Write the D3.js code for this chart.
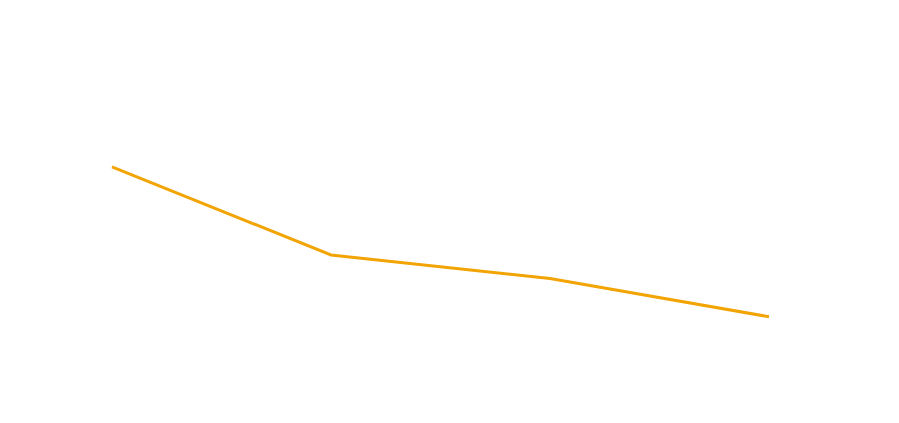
<!DOCTYPE html>
<html>
<head>
<meta charset="utf-8">
<script src="https://cdn.jsdelivr.net/npm/d3@7"></script>
<style>
  body { margin: 0; background: #fff; }
</style>
</head>
<body>
<div id="vis"></div>
<script>
// one orange series, no axes or labels shown
var categories = ['Q1', 'Q2', 'Q3', 'Q4'];
var values = [80, 50, 42, 29];

var svg = d3.select('#vis').append('svg')
  .attr('width', 899)
  .attr('height', 423);

var x = d3.scalePoint()
  .domain(categories)
  .range([112, 769]);

var y = d3.scaleLinear()
  .domain([0, 100])
  .range([402, 108]);

var line = d3.line()
  .x(function(d, i) { return x(categories[i]); })
  .y(function(d) { return y(d); });

svg.append('path')
  .datum(values)
  .attr('d', line)
  .attr('fill', 'none')
  .attr('stroke', '#f2a405')
  .attr('stroke-width', 3);
</script>
</body>
</html>
